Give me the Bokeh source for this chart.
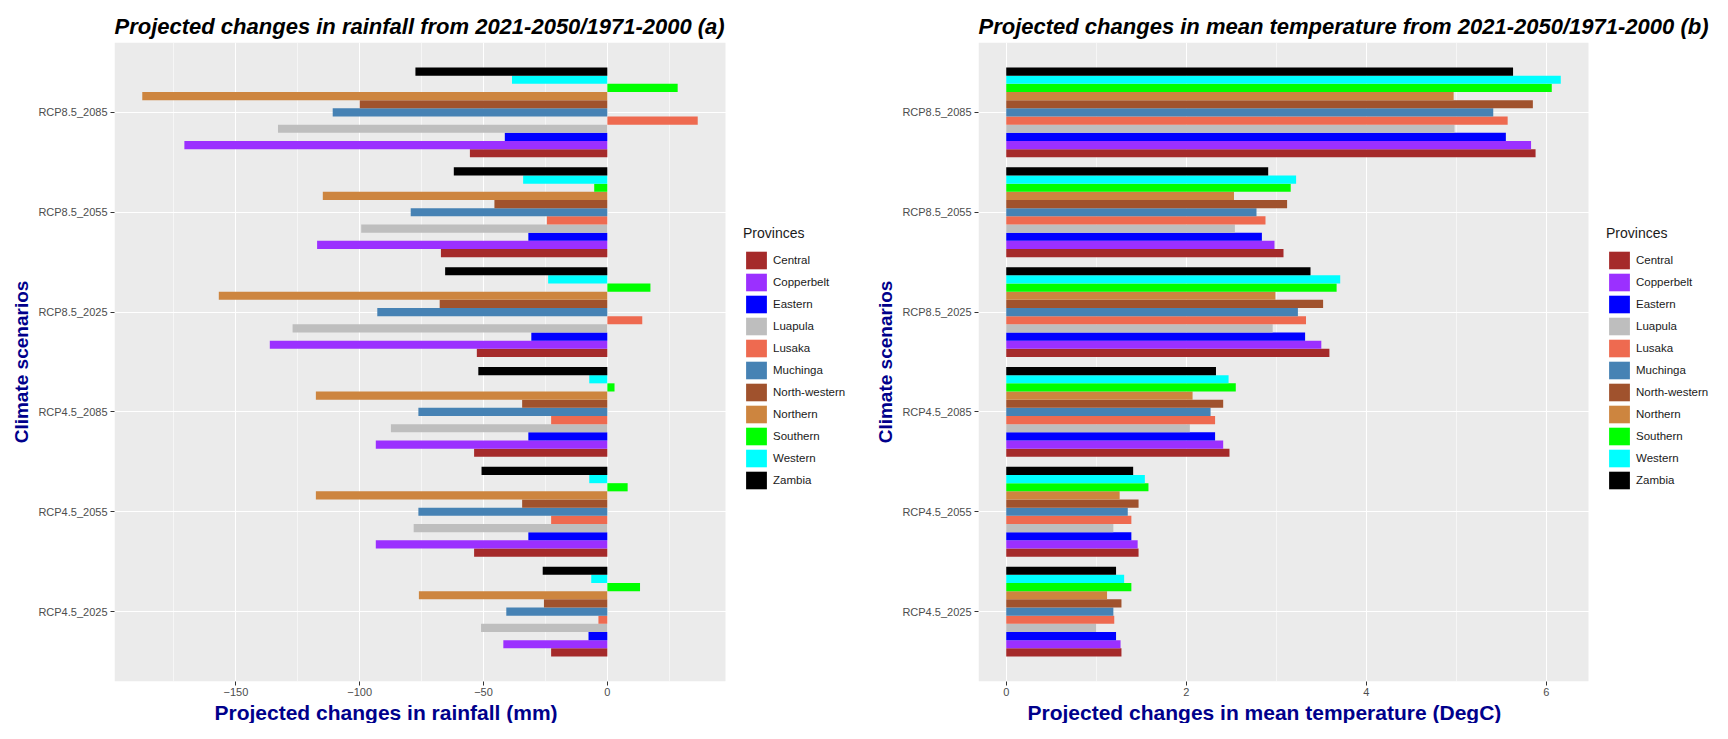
from bokeh.plotting import figure
from bokeh.models import (FactorRange, Range1d, FixedTicker, ColumnDataSource, Legend, LegendItem,
                          BoxAnnotation, Title)
from bokeh.transform import dodge
from bokeh.layouts import row
from bokeh.embed import file_html
from bokeh.resources import INLINE

# ---- data (scenarios listed bottom -> top) ----
scenarios = ["RCP4.5_2025", "RCP4.5_2055", "RCP4.5_2085", "RCP8.5_2025", "RCP8.5_2055", "RCP8.5_2085"]
provinces = ["Central", "Copperbelt", "Eastern", "Luapula", "Lusaka", "Muchinga",
             "North-western", "Northern", "Southern", "Western", "Zambia"]
colors = ["#A52A2A", "#9B30FF", "#0000FF", "#BEBEBE", "#EE6A50", "#4682B4",
          "#A0522D", "#CD853F", "#00FF00", "#00FFFF", "#000000"]

# rainfall change (mm)
rain_central = [-22.7, -53.8, -53.8, -52.7, -67.2, -55.5]
rain_copperbelt = [-42.0, -93.5, -93.5, -136.3, -117.2, -170.8]
rain_eastern = [-7.6, -31.9, -31.9, -30.7, -31.9, -41.4]
rain_luapula = [-51.0, -78.2, -87.4, -127.1, -99.4, -133.0]
rain_lusaka = [-3.6, -22.7, -22.7, 14.1, -24.4, 36.5]
rain_muchinga = [-40.8, -76.3, -76.3, -92.9, -79.4, -110.9]
rain_northwestern = [-25.6, -34.4, -34.4, -67.7, -45.6, -100.0]
rain_northern = [-76.1, -117.7, -117.7, -156.9, -114.9, -187.8]
rain_southern = [13.2, 8.2, 2.9, 17.4, -5.3, 28.4]
rain_western = [-6.5, -7.3, -7.3, -23.9, -34.0, -38.5]
rain_zambia = [-26.1, -50.8, -52.1, -65.5, -62.0, -77.5]

# mean temperature change (DegC)
temp_central = [1.28, 1.47, 2.48, 3.59, 3.08, 5.88]
temp_copperbelt = [1.27, 1.46, 2.41, 3.50, 2.98, 5.83]
temp_eastern = [1.22, 1.39, 2.32, 3.32, 2.84, 5.55]
temp_luapula = [1.00, 1.19, 2.04, 2.96, 2.54, 4.98]
temp_lusaka = [1.20, 1.39, 2.32, 3.33, 2.88, 5.57]
temp_muchinga = [1.19, 1.35, 2.27, 3.24, 2.78, 5.41]
temp_northwestern = [1.28, 1.47, 2.41, 3.52, 3.12, 5.85]
temp_northern = [1.12, 1.26, 2.07, 2.99, 2.53, 4.97]
temp_southern = [1.39, 1.58, 2.55, 3.67, 3.16, 6.06]
temp_western = [1.31, 1.54, 2.47, 3.71, 3.22, 6.16]
temp_zambia = [1.22, 1.41, 2.33, 3.38, 2.91, 5.63]

rain = [rain_central, rain_copperbelt, rain_eastern, rain_luapula, rain_lusaka, rain_muchinga,
        rain_northwestern, rain_northern, rain_southern, rain_western, rain_zambia]
temp = [temp_central, temp_copperbelt, temp_eastern, temp_luapula, temp_lusaka, temp_muchinga,
        temp_northwestern, temp_northern, temp_southern, temp_western, temp_zambia]

rain_ticks = [-150, -100, -50, 0]
rain_minor = [-175, -125, -75, -25, 25]
temp_ticks = [0, 2, 4, 6]
temp_minor = [1, 3, 5]

FONT = "Liberation Sans"
AXIS_BLUE = "#00008B"
PANEL_GREY = "#EBEBEB"


def make_panel(title, xlabel, series, ticks, minor, width, b_left, data_w, xlabel_offset):
    allv = [v for s in series for v in s] + [0]
    lo, hi = min(allv), max(allv)
    pad = (hi - lo) * 0.05
    d0, d1 = lo - pad, hi + pad
    frame_w = width - b_left
    x_end = d0 + (d1 - d0) * frame_w / data_w   # extra room on the right holds the legend
    p = figure(
        y_range=FactorRange(*scenarios, range_padding=0.2, range_padding_units="absolute"),
        x_range=Range1d(d0, x_end),
        width=width, height=723,
        min_border_left=b_left, min_border_right=0,
        min_border_top=42, min_border_bottom=30,
        output_backend="svg", toolbar_location=None,
        background_fill_color="white", border_fill_color="white",
        outline_line_color=None,
    )
    # grey panel behind the data area (ggplot style)
    p.add_layout(BoxAnnotation(left=d0, right=d1, fill_color=PANEL_GREY, fill_alpha=1,
                               line_color=None, level="image"))

    n = len(provinces)
    bar_h = 0.9 / n
    items = []
    for i, (prov, col, vals) in enumerate(zip(provinces, colors, series)):
        src = ColumnDataSource(dict(scenario=scenarios, value=vals))
        off = -0.45 + bar_h * (i + 0.5)
        r = p.hbar(y=dodge("scenario", off, range=p.y_range), left=0, right="value",
                   height=bar_h, source=src, fill_color=col, line_color=None)
        items.append(LegendItem(label=prov, renderers=[r]))

    legend = Legend(items=items, title="Provinces", location=(data_w + 18, 190), margin=0,
                    padding=2, spacing=0, glyph_width=26, glyph_height=22, label_height=22,
                    label_standoff=4, title_standoff=8, border_line_color=None,
                    background_fill_color="white",
                    label_text_font=FONT, label_text_font_size="11.5px", label_text_color="#1A1A1A",
                    title_text_font=FONT, title_text_font_size="14px",
                    title_text_font_style="normal", title_text_color="#1A1A1A")
    p.add_layout(legend, "center")

    p.title.text = title
    p.title.text_font = FONT
    p.title.text_font_size = "22px"
    p.title.text_font_style = "bold italic"
    p.title.text_color = "black"
    p.title.align = "left"
    p.title.standoff = 8

    p.xaxis.ticker = FixedTicker(ticks=ticks, minor_ticks=minor)
    for ax in (p.xaxis, p.yaxis):
        ax.axis_line_color = None
        ax.major_tick_line_color = "#333333"
        ax.major_tick_out = 4
        ax.major_tick_in = 0
        ax.minor_tick_line_color = None
        ax.major_label_text_font = FONT
        ax.major_label_text_font_size = "11px"
        ax.major_label_text_color = "#4D4D4D"
        ax.major_label_standoff = 2
        ax.axis_label_text_font = FONT
        ax.axis_label_text_font_style = "bold"
        ax.axis_label_text_color = AXIS_BLUE
    p.yaxis.major_label_standoff = 3
    p.yaxis.axis_label = "Climate scenarios"
    p.yaxis.axis_label_text_font_size = "19px"
    p.yaxis.axis_label_standoff = 3

    # x-axis title, placed like ggplot's
    p.add_layout(Title(text=xlabel, align="left", offset=xlabel_offset, standoff=0,
                       text_font=FONT, text_font_size="21px", text_font_style="bold",
                       text_color=AXIS_BLUE), "below")

    p.xgrid.grid_line_color = "white"
    p.xgrid.grid_line_width = 1.1
    p.xgrid.minor_grid_line_color = "white"
    p.xgrid.minor_grid_line_width = 0.55
    p.ygrid.grid_line_color = "white"
    p.ygrid.grid_line_width = 1.1
    return p


p1 = make_panel("Projected changes in rainfall from 2021-2050/1971-2000 (a)",
                "Projected changes in rainfall (mm)", rain, rain_ticks, rain_minor,
                864, 114, 611, 100)
p2 = make_panel("Projected changes in mean temperature from 2021-2050/1971-2000 (b)",
                "Projected changes in mean temperature (DegC)", temp, temp_ticks, temp_minor,
                848, 114, 610, 49)

layout = row(p1, p2)
open("out.html", "w").write(file_html(layout, INLINE, "Projected changes"))
